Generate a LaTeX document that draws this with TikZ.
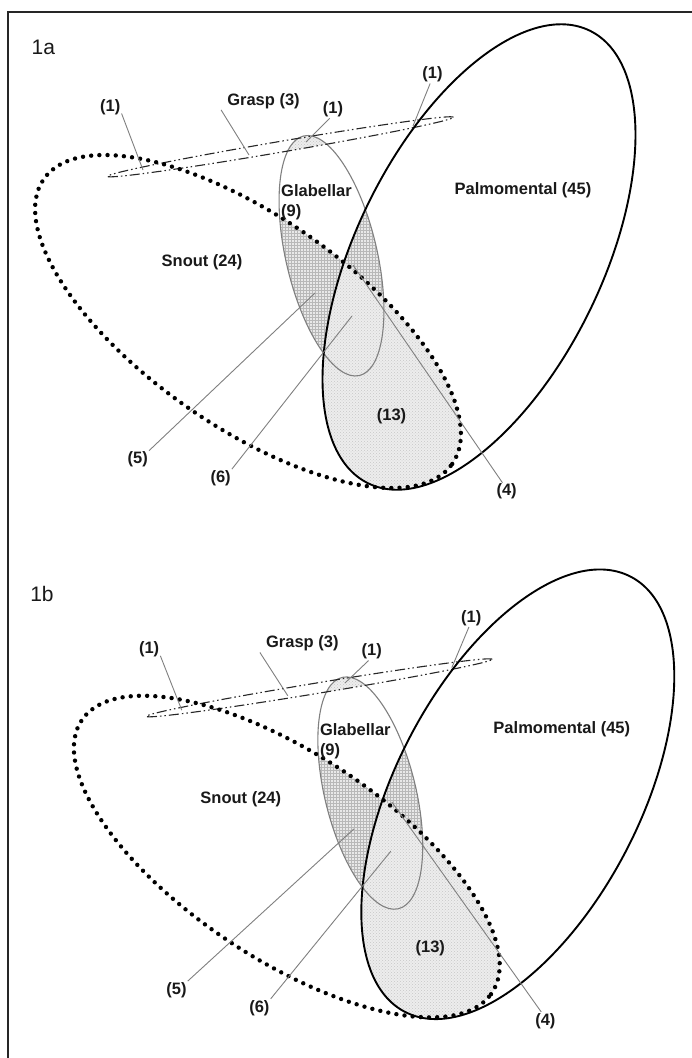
\documentclass[tikz,border=0pt]{standalone}
\usepackage{fontspec}
\setmainfont{Liberation Sans}
\usetikzlibrary{patterns}

\newcommand\palmE{(479,-257) circle [x radius=252, y radius=123, rotate=63.9]}
\newcommand\snoutE{(248,-321.5) circle [x radius=249, y radius=105, rotate=-34.9]}
\newcommand\glabE{(331.5,-255.75) circle [x radius=123, y radius=45.6, rotate=-76.9]}
\newcommand\graspE{(280.5,-146.8) circle [x radius=175.5, y radius=5.4, rotate=9.7]}
\newcommand\bigbox{(0,0) rectangle (692,-700)}

\tikzset{
  lab/.style={font=\fontsize{16.5}{19.5}\selectfont\bfseries, inner sep=1pt, text=black!90},
  panellab/.style={font=\fontsize{21}{24}\selectfont, inner sep=0pt, text=black!90},
  leader/.style={draw=black!50, line width=0.9pt},
  palmline/.style={draw=black, line width=1.9pt},
  snoutline/.style={draw=black, line width=4.4pt, line cap=round, dash pattern=on 0pt off 8.2pt},
  glabline/.style={draw=black!50, line width=1.1pt},
  graspline/.style={draw=black!85, line width=1.1pt, dash pattern=on 10pt off 3pt on 1.5pt off 3pt on 1.5pt off 3pt},
  gridbg/.style={fill=black!9},
  gridpat/.style={pattern=grid, pattern color=black!28},
  dotbg/.style={fill=black!7},
  dotpat/.style={pattern=crosshatch dots, pattern color=black!22},
  framel/.style={draw=black!85, line width=1.6pt}
}

\newcommand\vennpanel{%
  % Glabellar & Snout
  \begin{scope}
    \clip \glabE; \clip \snoutE;
    \path[gridbg] \bigbox; \path[gridpat] \bigbox;
  \end{scope}
  % Glabellar & Palmomental
  \begin{scope}
    \clip \glabE; \clip \palmE;
    \path[gridbg] \bigbox; \path[gridpat] \bigbox;
  \end{scope}
  % Snout & Palmomental
  \begin{scope}
    \clip \snoutE; \clip \palmE;
    \fill[white] \bigbox; \path[dotbg] \bigbox; \path[dotpat] \bigbox;
  \end{scope}
  % Glabellar & Grasp
  \begin{scope}
    \clip \glabE; \clip \graspE;
    \path[dotbg] \bigbox; \path[dotpat] \bigbox;
  \end{scope}
  % outlines
  \draw[glabline] \glabE;
  \draw[graspline] \graspE;
  \draw[snoutline] \snoutE;
  \draw[palmline] \palmE;
  % labels
  \node[lab] (palm) at (523,-190) {Palmomental (45)};
  \node[lab] (snout) at (202,-262) {Snout (24)};
  \node[lab, align=left, anchor=west] (glab) at (280,-202.3) {Glabellar\\(9)};
  \node[lab] (grasp) at (263.5,-101) {Grasp (3)};
  \node[lab] (n13) at (391.5,-416) {(13)};
  \node[lab] (oneL) at (110.3,-107) {(1)};
  \node[lab] (oneM) at (333,-109.4) {(1)};
  \node[lab] (oneR) at (432.5,-74.7) {(1)};
  \node[lab] (n5) at (137.7,-459.6) {(5)};
  \node[lab] (n6) at (220.6,-478) {(6)};
  \node[lab] (n4) at (506.6,-491.6) {(4)};
  % leader end points
  \coordinate (pL) at (143,-170);
  \coordinate (pG) at (249,-155);
  \coordinate (pM) at (306,-142);
  \coordinate (pR) at (413,-126);
  \coordinate (p5) at (315,-293);
  \coordinate (p6) at (352,-316);
  \coordinate (p4) at (353,-265);
  % leaders
  \draw[leader] (oneL.-30) -- (pL);
  \draw[leader] ([xshift=-5pt]grasp.south west) -- (pG);
  \draw[leader] (oneM.250) -- (pM);
  \draw[leader] (oneR.255) -- (pR);
  \draw[leader] (n5.north east) -- (p5);
  \draw[leader] (n6.north east) -- (p6);
  \draw[leader] (n4.115) -- (p4);
}

\begin{document}
\begin{tikzpicture}[x=1pt, y=1pt]
  \useasboundingbox (0,0) rectangle (692,-1058);
  \fill[white] (0,0) rectangle (692,-1058);
  % frame
  \draw[framel] (8,-1058) -- (8,-12) -- (692,-12);
  % panel labels
  \node[panellab] (la) at (43.3,-47.5) {1a};
  \node[panellab] (lb) at (42,-594) {1b};
  % panels
  \begin{scope}[name prefix=a-]
    \vennpanel
  \end{scope}
  \begin{scope}[name prefix=b-, shift={(38.8,-546)}, yscale=0.966]
    \vennpanel
  \end{scope}
\end{tikzpicture}
\end{document}
